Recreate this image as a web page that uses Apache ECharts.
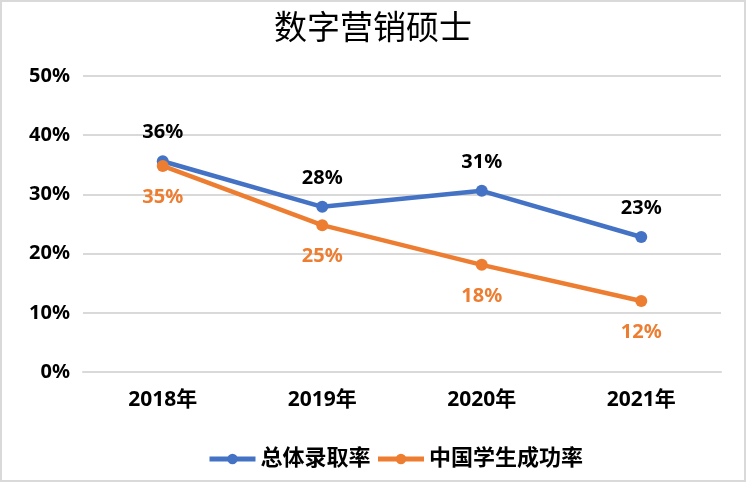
<!DOCTYPE html>
<html>
<head>
<meta charset="utf-8">
<script src="https://cdn.jsdelivr.net/npm/echarts@6/dist/echarts.min.js"></script>
<style>
  html, body { margin: 0; padding: 0; background: #fff; }
  #main { width: 742px; height: 478px; border: 2px solid #d9d9d9; }
</style>
</head>
<body>
<div id="main"></div>
<script>
var years = ['2018年', '2019年', '2020年', '2021年'];
var overallRate = [35.6, 27.9, 30.6, 22.8];
var chinaRate = [34.8, 24.8, 18.1, 12.0];
var overallName = '总体录取率';
var chinaName = '中国学生成功率';

var font = '"Noto Sans", "Noto Sans CJK SC", sans-serif';

window.addEventListener('load', () => {
    var chart = echarts.init(document.getElementById('main'));
    var option = {
        backgroundColor: '#fff',
        animation: false,
        title: {
            text: '数字营销硕士',
            left: 'center',
            top: 3,
            textStyle: { fontFamily: '"Noto Sans CJK SC", serif', fontSize: 33, fontWeight: 'normal', color: '#000' }
        },
        grid: { left: 81, right: 23, top: 74, bottom: 108 },
        legend: {
            top: 441,
            left: 200,
            itemWidth: 46,
            itemHeight: 13,
            itemGap: 5,
            lineStyle: { width: 5 },
            textStyle: { fontFamily: font, fontSize: 22, fontWeight: 'bold', color: '#000' },
            data: [overallName, chinaName]
        },
        xAxis: {
            type: 'category',
            data: years,
            axisLine: { lineStyle: { color: '#d9d9d9', width: 2 } },
            axisTick: { show: false },
            axisLabel: { margin: 18, fontFamily: font, fontSize: 21, fontWeight: 'bold', color: '#000' }
        },
        yAxis: {
            type: 'value',
            min: 0,
            max: 50,
            interval: 10,
            axisLine: { show: false },
            axisTick: { show: false },
            splitLine: { lineStyle: { color: '#d9d9d9', width: 2 } },
            axisLabel: { margin: 13, formatter: '{value}%', fontFamily: font, fontSize: 20, fontWeight: 'bold', color: '#000' }
        },
        series: [
            {
                name: overallName,
                type: 'line',
                data: overallRate,
                symbol: 'circle',
                symbolSize: 12,
                color: '#4472c4',
                lineStyle: { width: 4.5 },
                label: {
                    show: true,
                    position: 'top',
                    distance: 13,
                    formatter: p => Math.round(p.value) + '%',
                    fontFamily: font, fontSize: 20, fontWeight: 'bold', color: '#000'
                }
            },
            {
                name: chinaName,
                type: 'line',
                data: chinaRate,
                symbol: 'circle',
                symbolSize: 12,
                color: '#ed7d31',
                lineStyle: { width: 4.5 },
                label: {
                    show: true,
                    position: 'bottom',
                    distance: 15,
                    formatter: p => Math.round(p.value) + '%',
                    fontFamily: font, fontSize: 20, fontWeight: 'bold', color: '#ed7d31'
                }
            }
        ]
    };
    chart.setOption(option);
});
</script>
</body>
</html>
